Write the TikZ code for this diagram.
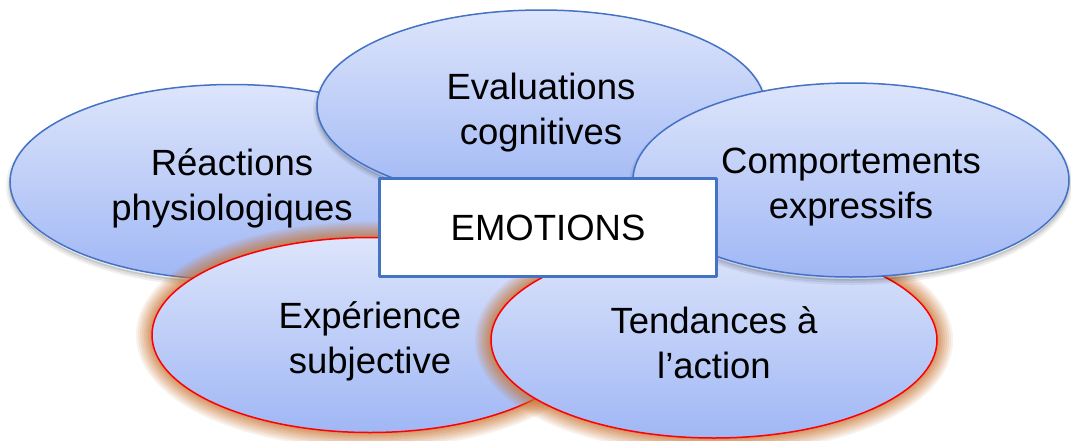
\documentclass[tikz,border=0pt]{standalone}
\usepackage{fontspec}
\setmainfont{Liberation Sans}
\usetikzlibrary{shapes.geometric}
\definecolor{edgeblue}{RGB}{68,114,196}
\definecolor{lighttop}{RGB}{221,229,251}
\definecolor{darkbot}{RGB}{160,183,245}
\definecolor{glowc}{RGB}{200,118,55}
\begin{document}
\begin{tikzpicture}[x=1pt,y=-1pt,
    bubble/.style={ellipse,inner sep=0pt,align=center,top color=lighttop,bottom color=darkbot,
        line width=1.5pt,font=\fontsize{36.5}{45}\selectfont,text height=85pt,text depth=9pt},
    softshadow/.style={preaction={draw=black,draw opacity=0.06,line width=8pt,transform canvas={yshift=-4pt}},
        preaction={draw=black,draw opacity=0.08,line width=4pt,transform canvas={yshift=-4pt}},
        preaction={draw=black,draw opacity=0.1,line width=1.5pt,transform canvas={yshift=-3pt}}},
    redglow/.style={preaction={draw=glowc,draw opacity=0.1,line width=32pt},
        preaction={draw=glowc,draw opacity=0.11,line width=28pt},
        preaction={draw=glowc,draw opacity=0.12,line width=24pt},
        preaction={draw=glowc,draw opacity=0.13,line width=20pt},
        preaction={draw=glowc,draw opacity=0.15,line width=16pt},
        preaction={draw=glowc,draw opacity=0.17,line width=12pt},
        preaction={draw=glowc,draw opacity=0.2,line width=8pt},
        preaction={draw=glowc,draw opacity=0.25,line width=4pt}},
    bluebubble/.style={bubble,draw=edgeblue,softshadow},
    redbubble/.style={bubble,draw=red,redglow},
    centerbox/.style={draw=edgeblue,fill=white,line width=3.5pt,line join=round,
        minimum width=337pt,minimum height=98pt,inner sep=0pt,font=\fontsize{36.5}{45}\selectfont}]
\useasboundingbox (0,0) rectangle (1071,440);
% upper ring
\node[bluebubble,minimum width=444pt,minimum height=195pt] (reac) at (232,182) {Réactions\\physiologiques};
\node[bluebubble,minimum width=448pt,minimum height=192pt] (eval) at (541,106) {Evaluations\\cognitives};
% lower pair, red outline
\node[redbubble,minimum width=436pt,minimum height=195pt] (expe) at (370,335) {Expérience\\subjective};
\node[redbubble,minimum width=446pt,minimum height=196pt] (tend) at (714,340) {Tendances à\\l’action};
\node[bluebubble,minimum width=436pt,minimum height=194pt] (comp) at (851,180) {Comportements\\expressifs};
% centre
\node[centerbox] (emo) at (548,227.5) {EMOTIONS};
\end{tikzpicture}
\end{document}
